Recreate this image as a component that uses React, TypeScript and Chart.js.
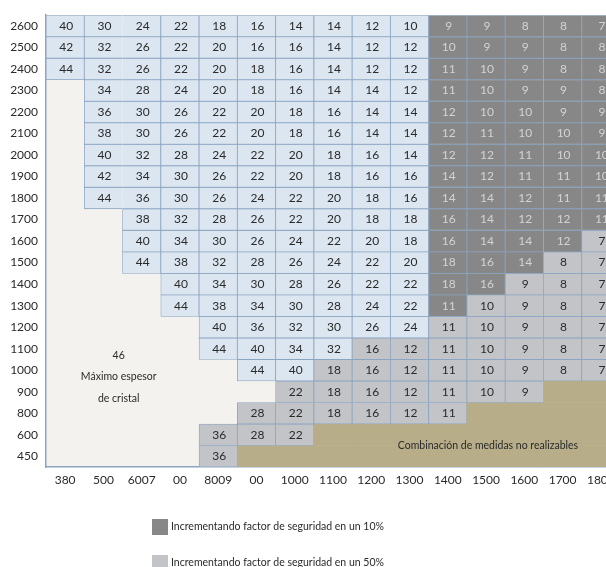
import React, { useEffect, useRef } from 'react';
import { Chart, registerables } from 'chart.js';

Chart.register(...registerables);

const colLabels = ['380', '500', '6007', '00', '8009', '00', '1000', '1100', '1200', '1300', '1400', '1500', '1600', '1700', '1800'];
const rowLabels = ['2600', '2500', '2400', '2300', '2200', '2100', '2000', '1900', '1800', '1700', '1600', '1500', '1400', '1300', '1200', '1100', '1000', '900', '800', '600', '450'];

// Thickness values per row (top to bottom), null = no value
const rowValues: (number | null)[][] = [
  [40, 30, 24, 22, 18, 16, 14, 14, 12, 10, 9, 9, 8, 8, 7],
  [42, 32, 26, 22, 20, 16, 16, 14, 12, 12, 10, 9, 9, 8, 8],
  [44, 32, 26, 22, 20, 18, 16, 14, 12, 12, 11, 10, 9, 8, 8],
  [null, 34, 28, 24, 20, 18, 16, 14, 14, 12, 11, 10, 9, 9, 8],
  [null, 36, 30, 26, 22, 20, 18, 16, 14, 14, 12, 10, 10, 9, 9],
  [null, 38, 30, 26, 22, 20, 18, 16, 14, 14, 12, 11, 10, 10, 9],
  [null, 40, 32, 28, 24, 22, 20, 18, 16, 14, 12, 12, 11, 10, 10],
  [null, 42, 34, 30, 26, 22, 20, 18, 16, 16, 14, 12, 11, 11, 10],
  [null, 44, 36, 30, 26, 24, 22, 20, 18, 16, 14, 14, 12, 11, 11],
  [null, null, 38, 32, 28, 26, 22, 20, 18, 18, 16, 14, 12, 12, 11],
  [null, null, 40, 34, 30, 26, 24, 22, 20, 18, 16, 14, 14, 12, 7],
  [null, null, 44, 38, 32, 28, 26, 24, 22, 20, 18, 16, 14, 8, 7],
  [null, null, null, 40, 34, 30, 28, 26, 22, 22, 18, 16, 9, 8, 7],
  [null, null, null, 44, 38, 34, 30, 28, 24, 22, 11, 10, 9, 8, 7],
  [null, null, null, null, 40, 36, 32, 30, 26, 24, 11, 10, 9, 8, 7],
  [null, null, null, null, 44, 40, 34, 32, 16, 12, 11, 10, 9, 8, 7],
  [null, null, null, null, null, 44, 40, 18, 16, 12, 11, 10, 9, 8, 7],
  [null, null, null, null, null, null, 22, 18, 16, 12, 11, 10, 9, null, null],
  [null, null, null, null, null, 28, 22, 18, 16, 12, 11, null, null, null, null],
  [null, null, null, null, 36, 28, 22, null, null, null, null, null, null, null, null],
  [null, null, null, null, 36, null, null, null, null, null, null, null, null, null, null],
];

// Cell kinds: L = standard, D = +10% safety factor, G = +50% safety factor, E = empty, K = not realizable
const rowKinds: string[] = [
  'LLLLLLLLLLDDDDD',
  'LLLLLLLLLLDDDDD',
  'LLLLLLLLLLDDDDD',
  'ELLLLLLLLLDDDDD',
  'ELLLLLLLLLDDDDD',
  'ELLLLLLLLLDDDDD',
  'ELLLLLLLLLDDDDD',
  'ELLLLLLLLLDDDDD',
  'ELLLLLLLLLDDDDD',
  'EELLLLLLLLDDDDD',
  'EELLLLLLLLDDDDG',
  'EELLLLLLLLDDDGG',
  'EEELLLLLLLDDGGG',
  'EEELLLLLLLDGGGG',
  'EEEELLLLLLGGGGG',
  'EEEELLLLGGGGGGG',
  'EEEEELLGGGGGGGG',
  'EEEEEEGGGGGGGKK',
  'EEEEEGGGGGGKKKK',
  'EEEEGGGKKKKKKKK',
  'EEEEGKKKKKKKKKK',
];

const legendLabels = ['Incrementando factor de seguridad en un 10%', 'Incrementando factor de seguridad en un 50%'];
const emptyLabels = ['46', 'Máximo espesor', 'de cristal'];
const khakiLabel = 'Combinación de medidas no realizables';

const COLORS: Record<string, string> = {
  L: '#dce6f1',
  D: '#878787',
  G: '#c3c4c8',
  K: '#b7ad88',
  E: 'rgba(0,0,0,0)',
};
const EMPTY_BG = '#f3f2ee';
const BORDER = '#8ba5c1';
const FONT = 'Lato, "Open Sans", sans-serif';

const nRows = rowLabels.length;

const tablePlugin = {
  id: 'tablePlugin',
  beforeDraw(chart: any) {
    const { ctx, chartArea } = chart;
    ctx.save();
    ctx.fillStyle = '#ffffff';
    ctx.fillRect(0, 0, chart.width, chart.height);
    ctx.fillStyle = EMPTY_BG;
    ctx.fillRect(chartArea.left, chartArea.top, chartArea.right - chartArea.left, chartArea.bottom - chartArea.top);
    ctx.restore();
  },
  afterDatasetsDraw(chart: any) {
    const { ctx } = chart;
    const xs = chart.scales.x;
    const ys = chart.scales.y;
    ctx.save();
    ctx.textAlign = 'center';
    ctx.textBaseline = 'middle';
    ctx.font = `12px ${FONT}`;
    rowValues.forEach((vals, r) => {
      vals.forEach((v, c) => {
        if (v == null) return;
        const kind = rowKinds[r][c];
        ctx.fillStyle = kind === 'D' ? '#d3d3d3' : '#2a2a2a';
        ctx.fillText(String(v), xs.getPixelForValue(c) + 1, ys.getPixelForValue(nRows - r - 0.5));
      });
    });
    // empty region annotation
    ctx.font = `10.5px ${FONT}`;
    ctx.fillStyle = '#2a2a2a';
    emptyLabels.forEach((t, i) => {
      ctx.fillText(t, xs.getPixelForValue(1.4), ys.getPixelForValue(5.2 - i));
    });
    ctx.fillText(khakiLabel, xs.getPixelForValue(11.05), ys.getPixelForValue(1));
    ctx.restore();
  },
  afterDraw(chart: any) {
    const { ctx } = chart;
    ctx.save();
    const swatches = [COLORS.D, COLORS.G];
    const ys = [519, 555];
    legendLabels.forEach((t, i) => {
      ctx.fillStyle = swatches[i];
      ctx.fillRect(152, ys[i], 16, 16);
      ctx.fillStyle = '#2a2a2a';
      ctx.font = `10.5px ${FONT}`;
      ctx.textAlign = 'left';
      ctx.textBaseline = 'middle';
      ctx.fillText(t, 171, ys[i] + 8);
    });
    ctx.restore();
  },
};

export default function App() {
  const ref = useRef<HTMLCanvasElement | null>(null);
  useEffect(() => {
    if (!ref.current) return;
    const datasets = rowLabels.map((lbl, r) => ({
      label: lbl,
      data: rowKinds[r].split('').map((k) => (k === 'E' ? null : [nRows - r - 1, nRows - r])) as any,
      backgroundColor: rowKinds[r].split('').map((k) => COLORS[k]),
      borderColor: rowKinds[r].split('').map((k) => (k === 'K' ? COLORS.K : BORDER)),
      borderWidth: rowKinds[r].split('').map((k) => (k === 'K' ? 0 : 0.8)),
      borderSkipped: (ctx: any) => {
        if (r <= 8 && ctx.dataIndex === 1) return 'right';
        if (r <= 8 && ctx.dataIndex === 2) return 'left';
        return false;
      },
      grouped: false,
      barPercentage: 1,
      categoryPercentage: 1,
      yAxisID: 'y',
    }));
    const chart = new Chart(ref.current, {
      type: 'bar',
      data: { labels: colLabels, datasets },
      options: {
        animation: false,
        responsive: false,
        devicePixelRatio: 1,
        layout: { padding: { left: 0, right: 10, top: 14, bottom: 0 } },
        plugins: { legend: { display: false }, tooltip: { enabled: false } },
        scales: {
          x: {
            type: 'category',
            position: 'bottom',
            z: 1,
            grid: { display: false, drawTicks: false },
            border: { display: true, color: BORDER, width: 1.5 },
            ticks: { color: '#2a2a2a', font: { family: FONT, size: 12 }, padding: 6, maxRotation: 0, autoSkip: false },
            afterFit: (s: any) => { s.height = 100; },
          },
          y: {
            type: 'linear',
            display: false,
            min: 0,
            max: nRows,
          },
          yl: {
            type: 'category',
            labels: rowLabels,
            position: 'left',
            offset: true,
            z: 1,
            grid: { display: false, drawTicks: false },
            border: { display: true, color: BORDER, width: 1.5 },
            ticks: { color: '#2a2a2a', font: { family: FONT, size: 12 }, padding: 8, autoSkip: false },
            afterFit: (s: any) => { s.width = 46; },
          },
        },
      } as any,
      plugins: [tablePlugin],
    });
    if ((document as any).fonts && (document as any).fonts.load) {
      (document as any).fonts.load(`12px Lato`).then(() => chart.update()).catch(() => {});
    }
    return () => chart.destroy();
  }, []);
  return (
    <div style={{ position: 'fixed', left: 0, top: 0, width: 606, height: 567, overflow: 'hidden', background: '#fff' }}>
      <canvas ref={ref} width={630} height={567} style={{ display: 'block' }} />
    </div>
  );
}
